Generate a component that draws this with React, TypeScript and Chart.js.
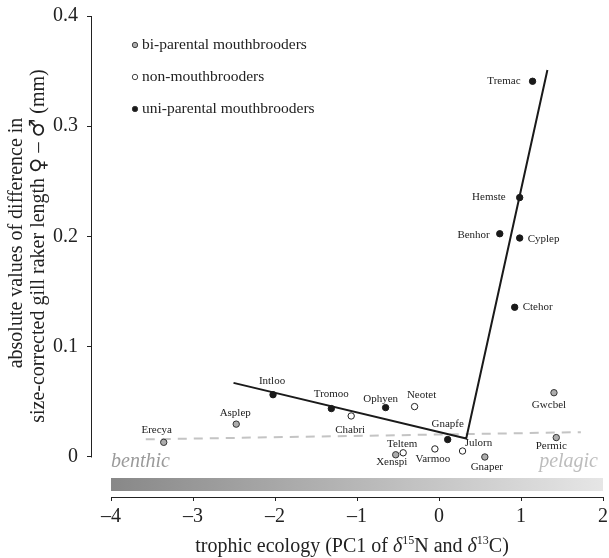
import React, { useEffect, useRef } from "react";
import { Chart, registerables } from "chart.js";

Chart.register(...registerables);

const FONT = '"Liberation Serif", "Times New Roman", Times, serif';
const SYM_FONT = '"DejaVu Sans", "Noto Sans", sans-serif';

// ---- data ----
const biParentalNames = ["Erecya", "Asplep", "Xenspi", "Gnaper", "Gwcbel", "Permic"];
const biParentalX = [-3.357, -2.473, -0.528, 0.559, 1.402, 1.43];
const biParentalY = [0.0133, 0.0298, 0.002, 0.0, 0.0583, 0.0176];

const nonNames = ["Chabri", "Neotet", "Teltem", "Varmoo", "Julorn"];
const nonX = [-1.071, -0.298, -0.437, -0.05, 0.287];
const nonY = [0.0372, 0.0457, 0.0038, 0.0073, 0.0054];

const uniNames = ["Intloo", "Tromoo", "Ophyen", "Gnapfe", "Tremac", "Hemste", "Benhor", "Cyplep", "Ctehor"];
const uniX = [-2.024, -1.313, -0.651, 0.106, 1.141, 0.984, 0.741, 0.984, 0.923];
const uniY = [0.0565, 0.0439, 0.0448, 0.0158, 0.3408, 0.2353, 0.2025, 0.1986, 0.1358];

const fitX = [-2.506, 0.332, 1.322];
const fitY = [0.0672, 0.0167, 0.351];

const nullX = [-3.576, 1.73];
const nullY = [0.016, 0.0225];

const xTicks = [-4, -3, -2, -1, 0, 1, 2];
const yTicks = [0, 0.1, 0.2, 0.3, 0.4];

const legendLabels = ["bi-parental mouthbrooders", "non-mouthbrooders", "uni-parental mouthbrooders"];

// ---- styles ----
const GRAY = "#adadad";
const BLACK = "#1a1a1a";
const INK = "#222222";

// label placement: [align, dx, dy]
const labelPlacement: Record<string, [CanvasTextAlign, number, number]> = {
  Erecya: ["center", -7, -12],
  Asplep: ["center", -1, -11],
  Intloo: ["center", -1, -14],
  Tromoo: ["center", 0, -14],
  Chabri: ["center", -1, 14],
  Ophyen: ["center", -5, -8],
  Neotet: ["center", 7, -11],
  Gnapfe: ["center", 0, -15],
  Teltem: ["center", -1, -9],
  Xenspi: ["center", -4, 7],
  Varmoo: ["center", -2, 10],
  Julorn: ["center", 16, -8],
  Gnaper: ["center", 2, 10],
  Gwcbel: ["center", -5, 12],
  Permic: ["center", -5, 9],
  Tremac: ["right", -12, 0],
  Hemste: ["right", -14, 0],
  Benhor: ["right", -10, 1],
  Cyplep: ["left", 8, 1],
  Ctehor: ["left", 8, 0],
};

const toPts = (xs: number[], ys: number[]) => xs.map((x, i) => ({ x, y: ys[i] }));

type Part = { t: string; f: string; dy: number };

function drawParts(ctx: CanvasRenderingContext2D, parts: Part[], cx: number, baseline: number) {
  let total = 0;
  parts.forEach((p) => {
    ctx.font = p.f;
    total += ctx.measureText(p.t).width;
  });
  let x = cx - total / 2;
  ctx.textAlign = "left";
  ctx.textBaseline = "alphabetic";
  parts.forEach((p) => {
    ctx.font = p.f;
    ctx.fillText(p.t, x, baseline + p.dy);
    x += ctx.measureText(p.t).width;
  });
}

const decorPlugin = {
  id: "decor",
  beforeDatasetsDraw(chart: any) {
    const { ctx, chartArea, scales } = chart;
    const xs = scales.x;
    const x0 = xs.getPixelForValue(-4);
    const x1 = xs.getPixelForValue(2);
    const yb = chartArea.bottom;
    ctx.save();
    const g = ctx.createLinearGradient(x0, 0, x1, 0);
    g.addColorStop(0, "#888888");
    g.addColorStop(1, "#e6e6e6");
    ctx.fillStyle = g;
    ctx.fillRect(x0, yb - 19, x1 - x0, 13);

    ctx.font = "italic 20px " + FONT;
    ctx.textBaseline = "alphabetic";
    ctx.fillStyle = "#9a9a9a";
    ctx.textAlign = "left";
    ctx.fillText("benthic", x0, yb - 30);
    ctx.fillStyle = "#bdbdbd";
    ctx.textAlign = "right";
    ctx.fillText("pelagic", x1 - 5, yb - 30);
    ctx.restore();
  },
  afterDraw(chart: any) {
    const { ctx, chartArea, scales } = chart;
    const xs = scales.x;
    const ys = scales.y;
    ctx.save();
    // axis lines
    ctx.strokeStyle = INK;
    ctx.lineWidth = 1;
    const lx = Math.round(chartArea.left) + 0.5;
    ctx.beginPath();
    ctx.moveTo(lx, ys.getPixelForValue(0) + 0.5);
    ctx.lineTo(lx, ys.getPixelForValue(0.4));
    ctx.stroke();
    const by = Math.round(chartArea.bottom) + 0.5;
    ctx.beginPath();
    ctx.moveTo(xs.getPixelForValue(-4), by);
    ctx.lineTo(xs.getPixelForValue(2) + 0.5, by);
    ctx.stroke();

    // legend
    const legendFills = [GRAY, "#ffffff", BLACK];
    ctx.font = "15.5px " + FONT;
    ctx.textBaseline = "middle";
    ctx.textAlign = "left";
    legendLabels.forEach((lab, i) => {
      const cy = chartArea.top + 29 + 32 * i;
      const cx = chartArea.left + 44;
      ctx.beginPath();
      ctx.arc(cx, cy, 2.7, 0, Math.PI * 2);
      ctx.fillStyle = legendFills[i];
      ctx.fill();
      ctx.strokeStyle = "#333";
      ctx.lineWidth = 0.9;
      ctx.stroke();
      ctx.fillStyle = INK;
      ctx.fillText(lab, cx + 7, cy);
    });

    // point labels
    ctx.font = "11px " + FONT;
    ctx.fillStyle = INK;
    ctx.textBaseline = "middle";
    const nameSets = [biParentalNames, nonNames, uniNames];
    nameSets.forEach((names, di) => {
      const meta = chart.getDatasetMeta(di);
      names.forEach((nm, j) => {
        const el = meta.data[j];
        if (!el) return;
        const p = labelPlacement[nm] || ["center", 0, -12];
        ctx.textAlign = p[0];
        ctx.fillText(nm, el.x + p[1], el.y + p[2]);
      });
    });

    // y-axis title
    ctx.fillStyle = INK;
    ctx.save();
    ctx.translate(22, 243);
    ctx.rotate(-Math.PI / 2);
    drawParts(ctx, [{ t: "absolute values of difference in", f: "20px " + FONT, dy: 0 }], 0, 0);
    ctx.restore();
    ctx.save();
    ctx.translate(44, 246);
    ctx.rotate(-Math.PI / 2);
    drawParts(
      ctx,
      [
        { t: "size-corrected gill raker length ", f: "20px " + FONT, dy: 0 },
        { t: "\u2640", f: "21px " + SYM_FONT, dy: 1 },
        { t: " \u2013 ", f: "20px " + FONT, dy: 0 },
        { t: "\u2642", f: "21px " + SYM_FONT, dy: 0 },
        { t: " (mm)", f: "20px " + FONT, dy: 0 },
      ],
      0,
      0
    );
    ctx.restore();

    // x-axis title with superscripts
    ctx.fillStyle = INK;
    drawParts(
      ctx,
      [
        { t: "trophic ecology (PC1 of ", f: "20px " + FONT, dy: 0 },
        { t: "\u03b4", f: "italic 20px " + FONT, dy: 0 },
        { t: "15", f: "12px " + FONT, dy: -8 },
        { t: "N and ", f: "20px " + FONT, dy: 0 },
        { t: "\u03b4", f: "italic 20px " + FONT, dy: 0 },
        { t: "13", f: "12px " + FONT, dy: -8 },
        { t: "C)", f: "20px " + FONT, dy: 0 },
      ],
      352,
      552
    );
    ctx.restore();
  },
};

export default function App() {
  const ref = useRef<HTMLCanvasElement | null>(null);

  useEffect(() => {
    if (!ref.current) return;
    Chart.defaults.font.family = FONT;
    const pointBase = { pointRadius: 3.2, pointHoverRadius: 3.2, pointBorderWidth: 1, showLine: false, order: 0 };
    const chart = new Chart(ref.current, {
      type: "scatter",
      data: {
        datasets: [
          { label: "bi-parental mouthbrooders", data: toPts(biParentalX, biParentalY), backgroundColor: GRAY, borderColor: "#333333", ...pointBase },
          { label: "non-mouthbrooders", data: toPts(nonX, nonY), backgroundColor: "#ffffff", borderColor: "#222222", ...pointBase },
          { label: "uni-parental mouthbrooders", data: toPts(uniX, uniY), backgroundColor: BLACK, borderColor: BLACK, ...pointBase },
          { label: "fit", data: toPts(fitX, fitY), showLine: true, borderColor: BLACK, borderWidth: 2, pointRadius: 0, fill: false, order: 1 },
          { label: "null", data: toPts(nullX, nullY), showLine: true, borderColor: "#c4c4c4", borderWidth: 2, borderDash: [9, 7], pointRadius: 0, fill: false, order: 2 },
        ],
      } as any,
      options: {
        animation: false,
        responsive: true,
        maintainAspectRatio: false,
        layout: { padding: { top: 16, right: 6, left: 0, bottom: 0 } },
        plugins: { legend: { display: false }, tooltip: { enabled: false } },
        scales: {
          x: {
            type: "linear",
            min: -4.244,
            max: 2,
            border: { display: false },
            grid: { drawOnChartArea: false, drawTicks: true, tickLength: 4, color: INK },
            afterBuildTicks: (s: any) => { s.ticks = xTicks.map((v) => ({ value: v })); },
            afterFit: (s: any) => {
              s.height = 61;
              s.paddingLeft = 0;
              s.paddingRight = 0;
            },
            ticks: { color: INK, font: { size: 20, family: FONT }, padding: 4, maxRotation: 0, autoSkip: false,
              callback: (v: any) => (v < 0 ? "\u2013" + Math.abs(v) : String(v)) },
          },
          y: {
            type: "linear",
            min: -0.0363,
            max: 0.4,
            border: { display: false },
            grid: { drawOnChartArea: false, drawTicks: true, tickLength: 4, color: INK },
            afterBuildTicks: (s: any) => { s.ticks = yTicks.map((v) => ({ value: v })); },
            afterFit: (s: any) => {
              s.width = 91;
              s.paddingTop = 0;
              s.paddingBottom = 0;
            },
            ticks: { color: INK, font: { size: 20, family: FONT }, padding: 9, autoSkip: false,
              callback: (v: any) => (v === 0 ? "0" : Number(v).toFixed(1)) },
          },
        },
      } as any,
      plugins: [decorPlugin],
    });
    return () => chart.destroy();
  }, []);

  return (
    <div style={{ position: "fixed", left: 0, top: 0, width: 609, height: 558, background: "#fff" }}>
      <canvas ref={ref} />
    </div>
  );
}
